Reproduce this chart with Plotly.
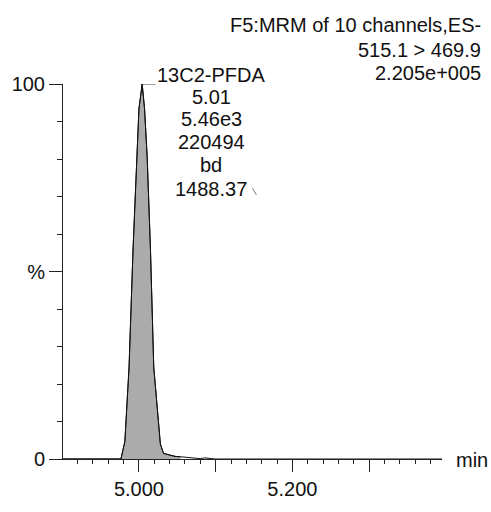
import plotly.graph_objects as go

# Chromatogram data (retention time in min, relative intensity in %)
time = [4.900, 4.930, 4.960, 4.9765, 4.9816, 4.9871, 4.9923, 4.9945, 4.9970, 5.0000,
        5.0042, 5.0073, 5.0107, 5.0129, 5.0150, 5.0193, 5.0279, 5.0320, 5.0407, 5.0470,
        5.0540, 5.0600, 5.0670, 5.0730, 5.0800, 5.0860, 5.0900, 5.0950, 5.1000, 5.1500,
        5.2000, 5.2500, 5.3000, 5.3500, 5.3950]
intensity = [0, 0, 0, 0, 4.6, 24.5, 56, 68, 80.6, 93.4,
             100, 93.4, 80.6, 68, 56, 24.5, 4.0, 1.5, 1.0, 0.7,
             0.6, 0.5, 0.3, 0.1, 0.1, 0.3, 0.3, 0.1, 0, 0,
             0, 0.1, 0.1, 0.1, 0]
# integrated peak region
fill_end = 5.054

header_lines = ["F5:MRM of 10 channels,ES-", "515.1 > 469.9", "2.205e+005"]
peak_lines = ["13C2-PFDA", "5.01", "5.46e3", "220494", "bd", "1488.37"]
apex_time = 5.0042
leader_end = 5.0219

x_major = [5.0, 5.1, 5.2, 5.3]
x_major_text = ["5.000", "", "5.200", ""]
y_major = [0, 50, 100]
y_major_text = ["0", "%", "100"]

FONT = "Liberation Sans, Arial, Helvetica, sans-serif"
W, H = 491, 512
L, R, T, B = 58, 49, 84, 36
pw, ph = W - L - R, H - T - B

def px2fx(px):
    return (px - L) / pw

def py2fy(py):
    return (H - B - py) / ph

ft = [t for t in time if t <= fill_end]
fi = intensity[:len(ft)]

fig = go.Figure()
fig.add_trace(go.Scatter(x=ft, y=fi, mode="lines", fill="tozeroy",
                         fillcolor="#ababab", line=dict(color="#111111", width=1),
                         hoverinfo="skip", showlegend=False))
fig.add_trace(go.Scatter(x=time, y=intensity, mode="lines",
                         line=dict(color="#111111", width=1),
                         showlegend=False, cliponaxis=False))
# leader line from apex
fig.add_trace(go.Scatter(x=[apex_time, leader_end], y=[100, 100], mode="lines",
                         line=dict(color="#444444", width=1), showlegend=False,
                         cliponaxis=False))

ann = []
header_y = [22, 48, 72]
for txt, py in zip(header_lines, header_y):
    ann.append(dict(text=txt, xref="paper", yref="paper", x=px2fx(484), y=py2fy(py),
                    xanchor="right", yanchor="middle", showarrow=False,
                    font=dict(family=FONT, size=20, color="#111111")))
peak_y = [75, 98, 121, 145, 169, 194]
for txt, py in zip(peak_lines, peak_y):
    ann.append(dict(text=txt, xref="paper", yref="paper", x=px2fx(208), y=py2fy(py),
                    xanchor="center", yanchor="middle", showarrow=False,
                    font=dict(family=FONT, size=20, color="#111111")))
ann.append(dict(text="min", xref="paper", yref="paper", x=px2fx(454), y=py2fy(477),
                xanchor="left", yanchor="middle", showarrow=False,
                font=dict(family=FONT, size=20, color="#111111")))

fig.update_layout(
    width=W, height=H,
    margin=dict(l=L, r=R, t=T, b=B, pad=0),
    paper_bgcolor="white", plot_bgcolor="white",
    annotations=ann,
    shapes=[dict(type="line", xref="paper", yref="paper",
                 x0=px2fx(250), y0=py2fy(193), x1=px2fx(254), y1=py2fy(200),
                 line=dict(color="#777777", width=1))],
    font=dict(family=FONT, size=20, color="#111111"),
)
fig.update_xaxes(range=[4.901, 5.395], showgrid=False, zeroline=False,
                 showline=True, linecolor="#222222", linewidth=1,
                 ticks="outside", ticklen=12, tickcolor="#222222", tickwidth=1,
                 tickvals=x_major, ticktext=x_major_text,
                 tickfont=dict(family=FONT, size=20, color="#111111"),
                 minor=dict(tick0=4.9, dtick=0.02, ticks="outside", ticklen=4,
                            tickcolor="#222222", tickwidth=1, showgrid=False))
fig.update_yaxes(range=[0, 100], showgrid=False, zeroline=False,
                 showline=True, linecolor="#222222", linewidth=1,
                 ticks="outside", ticklen=13, tickcolor="#222222", tickwidth=1,
                 tickvals=y_major, ticktext=y_major_text,
                 tickfont=dict(family=FONT, size=20, color="#111111"),
                 minor=dict(tick0=0, dtick=10, ticks="outside", ticklen=5,
                            tickcolor="#222222", tickwidth=1, showgrid=False))

fig.write_html("out.html", config={"displayModeBar": False},
               post_script="document.body.style.margin='0';document.body.style.overflow='hidden';")
